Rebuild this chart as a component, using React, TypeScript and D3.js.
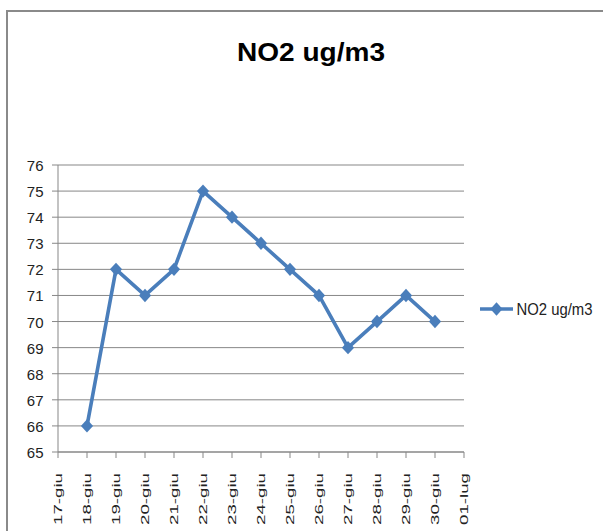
import React from "react";
import * as d3 from "d3";

// Daily NO2 concentration, June 17 – July 1
const days = [
  "17-giu", "18-giu", "19-giu", "20-giu", "21-giu", "22-giu", "23-giu", "24-giu",
  "25-giu", "26-giu", "27-giu", "28-giu", "29-giu", "30-giu", "01-lug",
];
const no2: (number | null)[] = [
  null, 66, 72, 71, 72, 75, 74, 73, 72, 71, 69, 70, 71, 70, null,
];
const yTicks = [65, 66, 67, 68, 69, 70, 71, 72, 73, 74, 75, 76];
const seriesName = "NO2 ug/m3";
const title = "NO2 ug/m3";

const W = 603;
const H = 531;
const LEFT = 58;
const RIGHT = 464;
const TOP = 165;
const BOTTOM = 452;
const BLUE = "#4a7ebb";
const GRID = "#878787";
const FONT = "'Liberation Sans', Arial, sans-serif";
const NARROW = "'Liberation Sans Narrow', 'Liberation Sans', Arial, sans-serif";

export default function App() {
  const x = d3.scalePoint<string>().domain(days).range([LEFT, RIGHT]).padding(0);
  const y = d3.scaleLinear().domain([65, 76]).range([BOTTOM, TOP]);

  const pts = days.map((d, i) => ({ d, v: no2[i] }));
  const line = d3
    .line<{ d: string; v: number | null }>()
    .defined((p) => p.v !== null)
    .x((p) => x(p.d) as number)
    .y((p) => y(p.v as number));

  const diamond = d3.symbol().type(d3.symbolSquare).size(74)() as string;

  const legendY = 309;

  return (
    <svg
      width={W}
      height={H}
      style={{ position: "absolute", left: 0, top: 0, background: "#fff" }}
      fontFamily={FONT}
    >
      {/* chart frame */}
      <path d={`M7,${H + 5} V11 H${W + 5}`} fill="none" stroke="#8a8a8a" strokeWidth={2} />

      {/* title */}
      <text
        x={311}
        y={60.5}
        textAnchor="middle"
        fontSize={26.5}
        fontWeight="bold"
        fontFamily={NARROW}
        textLength={148}
        lengthAdjust="spacingAndGlyphs"
        fill="#000"
      >
        {title}
      </text>

      {/* horizontal gridlines with tick stubs */}
      {yTicks.map((t) => (
        <g key={t}>
          <line x1={LEFT - 6} x2={RIGHT} y1={y(t)} y2={y(t)} stroke={GRID} strokeWidth={1} />
          <text x={43.5} y={y(t) + 6} textAnchor="end" fontSize={15} fill="#222">
            {t}
          </text>
        </g>
      ))}

      {/* axes */}
      <line x1={LEFT} x2={LEFT} y1={TOP} y2={BOTTOM} stroke={GRID} strokeWidth={1} />
      <line x1={LEFT} x2={RIGHT} y1={BOTTOM} y2={BOTTOM} stroke={GRID} strokeWidth={1} />
      {days.map((d) => (
        <g key={d}>
          <line x1={x(d)} x2={x(d)} y1={BOTTOM} y2={BOTTOM + 6} stroke={GRID} strokeWidth={1} />
          <text
            transform={`translate(${x(d)},473) rotate(-90)`}
            textAnchor="end"
            dy="0.36em"
            fontSize={10.5}
            fontFamily={NARROW}
            textLength={52}
            lengthAdjust="spacingAndGlyphs"
            fill="#222"
          >
            {d}
          </text>
        </g>
      ))}

      {/* series */}
      <path
        d={line(pts) as string}
        fill="none"
        stroke={BLUE}
        strokeWidth={3.6}
        strokeLinejoin="round"
      />
      {pts
        .filter((p) => p.v !== null)
        .map((p) => (
          <path
            key={p.d}
            d={diamond}
            fill={BLUE}
            transform={`translate(${x(p.d)},${y(p.v as number)}) scale(1,1.1) rotate(45)`}
          />
        ))}

      {/* legend */}
      <line x1={480} x2={513} y1={legendY} y2={legendY} stroke={BLUE} strokeWidth={3.6} />
      <path
        d={diamond}
        fill={BLUE}
        transform={`translate(496.5,${legendY}) scale(1,1.1) rotate(45)`}
      />
      <text
        x={516.5}
        y={315}
        fontSize={17}
        fontFamily={NARROW}
        textLength={76}
        lengthAdjust="spacingAndGlyphs"
        fill="#222"
      >
        {seriesName}
      </text>
    </svg>
  );
}
